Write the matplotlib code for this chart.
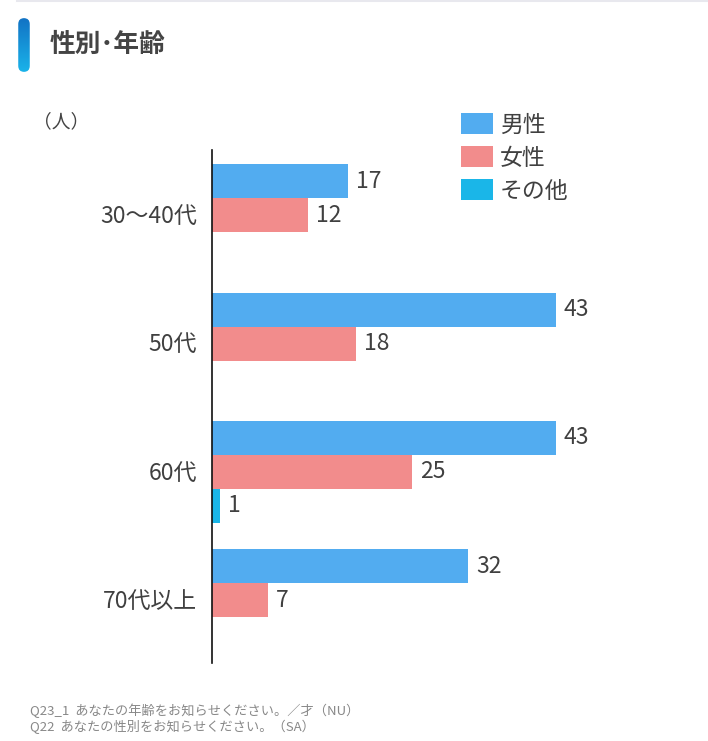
import numpy as np
import matplotlib.pyplot as plt
from matplotlib.patches import FancyBboxPatch
from matplotlib.lines import Line2D
from matplotlib.colors import LinearSegmentedColormap

plt.rcParams['font.family'] = ['Noto Sans CJK JP', 'DejaVu Sans']

# data
categories = ['30～40代', '50代', '60代', '70代以上']
series_names = ['男性', '女性', 'その他']
male = [17, 43, 43, 32]
female = [12, 18, 25, 7]
other = [0, 0, 1, 0]
colors = ['#52acf0', '#f28c8c', '#1ab6e8']

W, H = 708, 741
fig = plt.figure(figsize=(W / 100, H / 100), dpi=100)

def fx(px):
    return px / W

def fy(py):
    return 1 - py / H

# top separator line
fig.add_artist(Line2D([fx(17), 1], [fy(0.8), fy(0.8)], color='#e8e8ee', lw=1.5))

# title accent bar (gradient)
bar_ax = fig.add_axes([fx(18), fy(73), fx(12), (73 - 17) / H])
grad = np.linspace(0, 1, 100).reshape(-1, 1)
cmap = LinearSegmentedColormap.from_list('acc', ['#1272c4', '#1ab4ea'])
bar_ax.set_xlim(0, 1)
bar_ax.set_ylim(0, 1)
im = bar_ax.imshow(grad, aspect='auto', cmap=cmap, extent=[0, 1, 0, 1], origin='upper')
clip = FancyBboxPatch((0.02, 0.02), 0.96, 0.96, boxstyle='round,pad=0,rounding_size=0.5',
                      transform=bar_ax.transAxes, facecolor='none', edgecolor='none',
                      mutation_aspect=12 / 56)
bar_ax.add_patch(clip)
im.set_clip_path(clip)
bar_ax.axis('off')

fig.text(fx(50), fy(44), '性別･年齢', fontsize=18.5, fontweight='bold', color='#444444',
         va='center', ha='left')
fig.text(fx(33), fy(122), '（人）', fontsize=13.5, color='#444444', va='center', ha='left')

# main axes
ax = fig.add_axes([fx(212), fy(663), fx(660 - 212), (663 - 150) / H])
y = np.arange(len(categories))
h = 34 / 128.25
vals = [male, female, other]
for k, (name, v, c) in enumerate(zip(series_names, vals, colors)):
    pos = y + (k - 1) * h + 0.01
    ax.barh(pos, v, height=h, color=c, label=name)
    for p, val in zip(pos, v):
        if val > 0:
            ax.text(val + 1.0, p, str(val), va='center', ha='left', fontsize=16.5, color='#404040')

ax.set_xlim(0, (660 - 212) / 8)
ax.set_ylim(3.5, -0.5)
ax.set_yticks(y)
ax.set_yticklabels(categories, fontsize=16.5, color='#404040')
ax.tick_params(axis='y', length=0, pad=11)
ax.set_xticks([])
for s in ['top', 'right', 'bottom']:
    ax.spines[s].set_visible(False)
ax.spines['left'].set_color('#111111')
ax.spines['left'].set_linewidth(1.2)

leg = fig.legend(loc='upper left', bbox_to_anchor=(fx(461), fy(113)), frameon=False,
                 fontsize=16.5, handlelength=1.4, handleheight=1.05, handletextpad=0.3,
                 labelspacing=0.42, borderpad=0, borderaxespad=0, labelcolor='#404040')

fig.text(fx(30), fy(711), 'Q23_1  あなたの年齢をお知らせください。／才（NU）',
         fontsize=9.5, color='#888888', va='center', ha='left')
fig.text(fx(30), fy(727), 'Q22  あなたの性別をお知らせください。（SA）',
         fontsize=9.5, color='#888888', va='center', ha='left')

fig.savefig('out.png', dpi=100)
